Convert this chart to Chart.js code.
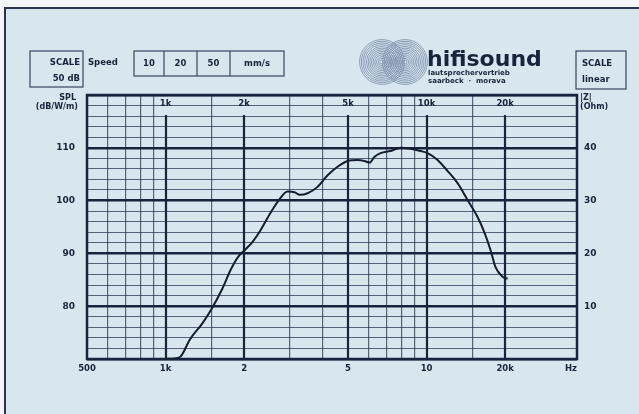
<!DOCTYPE html>
<html>
<head>
<meta charset="utf-8">
<script src="https://cdn.jsdelivr.net/npm/chart.js@4.4.1/dist/chart.umd.min.js"></script>
<style>
  html, body { margin: 0; padding: 0; background: #f3f5f6; }
  canvas { display: block; }
</style>
</head>
<body>
<canvas id="freqChart" width="639" height="414"></canvas>
<script>
// grid + labels
const gridFreqs = [500, 600, 700, 800, 900, 1000, 1500, 2000, 3000, 4000, 5000, 6000, 7000, 8000, 9000, 10000, 15000, 20000];
const majorFreqs = [1000, 2000, 5000, 10000, 20000];
const topFreqLabels = ['1k', '2k', '5k', '10k', '20k'];
const bottomFreqs = [500, 1000, 2000, 5000, 10000, 20000];
const bottomFreqLabels = ['500', '1k', '2', '5', '10', '20k'];
const splTicks = [80, 90, 100, 110];
const ohmTicks = [10, 20, 30, 40];
const speedLabels = ['10', '20', '50', 'mm/s'];

// measured response (Hz / dB)
const freqHz = [1000, 1131, 1162, 1236, 1386, 1514, 1653, 1780, 1900, 2008, 2154, 2312, 2525, 2734, 2934, 3120, 3262, 3500, 3822, 4176, 4561, 4982, 5440, 5785, 6049, 6321, 6664, 7278, 7950, 8684, 9485, 10090, 11020, 12040, 13150, 14360, 15680, 16680, 17590, 18370, 19550, 20430];
const splDb = [70.0, 70.3, 71.0, 73.6, 76.8, 79.8, 83.4, 87.0, 89.4, 90.6, 92.2, 94.4, 97.7, 100.3, 101.7, 101.6, 101.1, 101.4, 102.6, 104.8, 106.4, 107.5, 107.7, 107.5, 107.2, 108.3, 109.0, 109.4, 110.0, 109.8, 109.4, 109.0, 107.7, 105.6, 103.3, 100.1, 96.9, 93.9, 90.6, 87.4, 85.6, 85.2];

const INK = '#18233d';
const MINOR = 'rgba(40, 55, 85, 0.75)';
const PAPER = '#d8e6ee';
const FONT = '"DejaVu Sans", sans-serif';

const paperPlugin = {
    id: 'paper',
    beforeDraw(chart) {
        const ctx = chart.ctx;
        ctx.save();
        ctx.fillStyle = '#f3f5f6';
        ctx.fillRect(0, 0, chart.width, chart.height);
        ctx.fillStyle = PAPER;
        ctx.fillRect(5, 8, chart.width - 5, chart.height - 8);
        ctx.strokeStyle = '#2a3450';
        ctx.lineWidth = 2;
        ctx.beginPath();
        ctx.moveTo(5, chart.height);
        ctx.lineTo(5, 8);
        ctx.lineTo(chart.width, 8);
        ctx.stroke();
        ctx.restore();
    }
};

const sheetPlugin = {
    id: 'sheet',
    beforeDatasetsDraw(chart) {
        const ctx = chart.ctx;
        const area = chart.chartArea;
        const x = chart.scales.x;
        const y = chart.scales.y;
        const y2 = chart.scales.y2;
        ctx.save();

        // heavy decade lines, broken at the top for the labels
        ctx.strokeStyle = INK;
        ctx.lineWidth = 2.2;
        majorFreqs.forEach(f => {
            const px = Math.round(x.getPixelForValue(f));
            ctx.beginPath();
            ctx.moveTo(px, area.top + 20);
            ctx.lineTo(px, area.bottom);
            ctx.stroke();
        });

        // frame
        ctx.lineWidth = 2.5;
        ctx.strokeRect(area.left, area.top, area.right - area.left, area.bottom - area.top);

        ctx.fillStyle = INK;
        ctx.font = 'bold 8.5px ' + FONT;
        ctx.textBaseline = 'middle';
        ctx.textAlign = 'center';
        majorFreqs.forEach((f, i) => {
            ctx.fillText(topFreqLabels[i], x.getPixelForValue(f), area.top + 9);
        });
        bottomFreqs.forEach((f, i) => {
            ctx.fillText(bottomFreqLabels[i], x.getPixelForValue(f), area.bottom + 10);
        });
        ctx.fillText('Hz', area.right - 6, area.bottom + 10);

        ctx.font = 'bold 9px ' + FONT;
        ctx.textAlign = 'right';
        splTicks.forEach(v => ctx.fillText(String(v), area.left - 12, y.getPixelForValue(v)));
        ctx.textAlign = 'left';
        ohmTicks.forEach(v => ctx.fillText(String(v), area.right + 7, y2.getPixelForValue(v)));

        ctx.font = 'bold 8px ' + FONT;
        ctx.textAlign = 'right';
        ctx.fillText('SPL', area.left - 11, area.top + 3);
        ctx.fillText('(dB/W/m)', area.left - 9, area.top + 12);
        ctx.textAlign = 'left';
        ctx.fillText('|Z|', area.right + 3, area.top + 3);
        ctx.fillText('(Ohm)', area.right + 3, area.top + 12);

        // header boxes
        ctx.lineWidth = 1.2;
        ctx.strokeStyle = '#3a4562';
        ctx.strokeRect(30, 51, 53, 36);
        ctx.font = 'bold 8.5px ' + FONT;
        ctx.textAlign = 'right';
        ctx.fillText('SCALE', 80, 63);
        ctx.fillText('50 dB', 80, 79);
        ctx.textAlign = 'left';
        ctx.fillText('Speed', 88, 63);

        const cells = [134, 164, 197, 230, 284];
        ctx.strokeRect(cells[0], 51, cells[4] - cells[0], 25);
        for (let i = 1; i < 4; i++) {
            ctx.beginPath();
            ctx.moveTo(cells[i], 51);
            ctx.lineTo(cells[i], 76);
            ctx.stroke();
        }
        ctx.textAlign = 'center';
        speedLabels.forEach((s, i) => ctx.fillText(s, (cells[i] + cells[i + 1]) / 2, 63.5));

        ctx.strokeRect(576, 51, 50, 38);
        ctx.textAlign = 'left';
        ctx.fillText('SCALE', 582, 64);
        ctx.fillText('linear', 582, 80);

        // logo
        ctx.strokeStyle = 'rgba(120, 138, 170, 0.8)';
        ctx.lineWidth = 1;
        [[382, 62], [405, 62]].forEach(c => {
            for (let r = 2; r <= 23; r += 1.7) {
                ctx.beginPath();
                ctx.arc(c[0], c[1], r, 0, Math.PI * 2);
                ctx.stroke();
            }
        });
        ctx.fillStyle = INK;
        ctx.font = 'bold 22px ' + FONT;
        ctx.textBaseline = 'alphabetic';
        ctx.fillText('hifisound', 427, 66);
        ctx.font = 'bold 7px ' + FONT;
        ctx.fillText('lautsprechervertrieb', 428, 75);
        ctx.fillText('saarbeck  ·  morava', 428, 83);

        ctx.restore();
    }
};

new Chart(document.getElementById('freqChart'), {
    type: 'line',
    data: {
        datasets: [{
            label: 'SPL',
            data: freqHz.map((f, i) => ({ x: f, y: splDb[i] })),
            borderColor: '#161c30',
            borderWidth: 2,
            pointRadius: 0,
            cubicInterpolationMode: 'monotone',
            fill: false
        }]
    },
    options: {
        responsive: false,
        animation: false,
        devicePixelRatio: 1,
        layout: { padding: { left: 87, right: 62, top: 95, bottom: 55 } },
        plugins: { legend: { display: false }, tooltip: { enabled: false } },
        scales: {
            x: {
                type: 'logarithmic',
                min: 500,
                max: 37700,
                afterBuildTicks: scale => { scale.ticks = gridFreqs.map(v => ({ value: v })); },
                afterFit: scale => { scale.height = 0; },
                ticks: { display: false },
                border: { display: false },
                grid: {
                    drawTicks: false,
                    lineWidth: 1.2,
                    color: ctx => majorFreqs.includes(ctx.tick && ctx.tick.value) ? 'rgba(0,0,0,0)' : MINOR
                }
            },
            y: {
                type: 'linear',
                min: 70,
                max: 120,
                afterBuildTicks: scale => {
                    const t = [];
                    for (let v = 70; v <= 120; v += 2) t.push({ value: v });
                    scale.ticks = t;
                },
                afterFit: scale => { scale.width = 0; },
                ticks: { display: false },
                border: { display: false },
                grid: {
                    drawTicks: false,
                    color: ctx => (ctx.tick && ctx.tick.value % 10 === 0) ? INK : MINOR,
                    lineWidth: ctx => (ctx.tick && ctx.tick.value % 10 === 0) ? 2.4 : 1.1
                }
            },
            y2: {
                type: 'linear',
                position: 'right',
                min: 0,
                max: 50,
                afterFit: scale => { scale.width = 0; },
                ticks: { display: false },
                border: { display: false },
                grid: { display: false, drawTicks: false }
            }
        }
    },
    plugins: [paperPlugin, sheetPlugin]
});
</script>
</body>
</html>
